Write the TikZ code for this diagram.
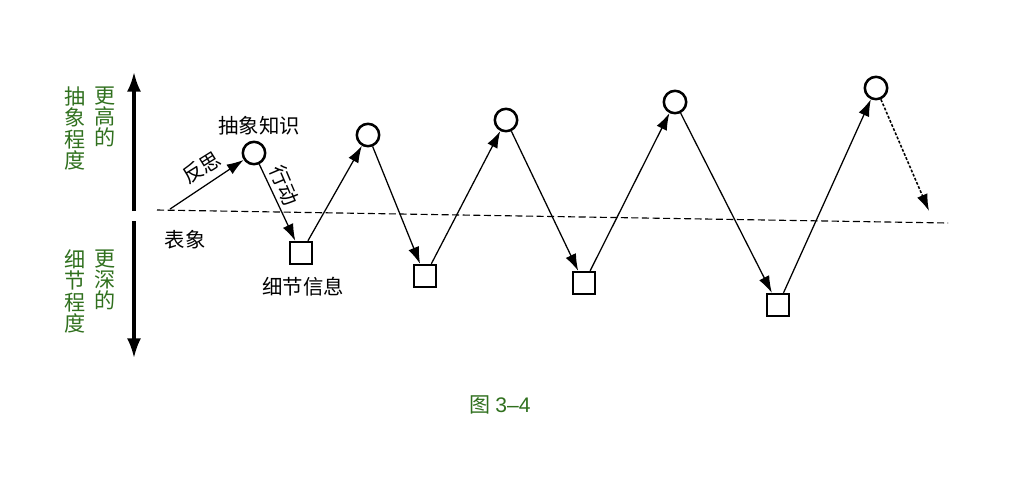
\documentclass[tikz,border=0pt]{standalone}
\usepackage{fontspec}
\newfontfamily\cjk{Noto Sans CJK SC}
\usetikzlibrary{arrows.meta,positioning}
\definecolor{bookgreen}{RGB}{48,112,30}

\tikzset{know/.style={circle,draw,line width=1.8pt,minimum size=5.6mm,inner sep=0pt},
  detail/.style={rectangle,draw,line width=1.4pt,minimum size=5.6mm,inner sep=0pt},
  side/.style={text=bookgreen,font=\cjk\fontsize{15}{15.2}\selectfont,align=center,anchor=north,inner sep=0pt},
  lbl/.style={font=\cjk\fontsize{14.5}{16}\selectfont,inner sep=0pt}}

\begin{document}
\begin{tikzpicture}[x=0.25mm,y=-0.25mm,->,>={Latex[length=12pt,width=8pt]},line width=0.9pt]
\useasboundingbox (0,0) rectangle (1024,476);
% axis on the left
\coordinate (Top) at (134,72);
\coordinate (MidA) at (134,211);
\coordinate (MidB) at (134,221);
\coordinate (Bottom) at (134,358);
\draw[line width=2.2pt,-{Latex[length=14pt,width=10pt]}] (MidA) -- (Top);
\draw[line width=2.2pt,-{Latex[length=14pt,width=10pt]}] (MidB) -- (Bottom);
\node[side] (HighA) at (105,86) {更\\高\\的};
\node[side] (HighB) at (75,86) {抽\\象\\程\\度};
\node[side] (DeepA) at (105,249) {更\\深\\的};
\node[side] (DeepB) at (75,249) {细\\节\\程\\度};
% surface line
\coordinate (LineL) at (157,210);
\coordinate (LineR) at (948,223);
\draw[-,line width=0.8pt,dash pattern=on 5pt off 2.5pt] (LineL) -- (LineR);
\coordinate (Start) at (170,209);
% knowledge and details
\node[know] (K1) at (254,153) {};
\node[know] (K2) at (368,135) {};
\node[know] (K3) at (506,120) {};
\node[know] (K4) at (675,102) {};
\node[know] (K5) at (876,88) {};
\node[detail] (D1) at (301,253) {};
\node[detail] (D2) at (425,276) {};
\node[detail] (D3) at (584,283) {};
\node[detail] (D4) at (778,305) {};
\coordinate (Next) at (929,211);
\node[lbl] (Abstract) at (259,126) {\cjk 抽象知识};
\node[lbl] (Surface) at (185,240) {\cjk 表象};
\node[lbl] (Detail) at (303,287) {\cjk 细节信息};
\begin{scope}[every node/.style={midway,lbl}]
\draw (Start) to node[above=6pt,rotate=32] {\cjk 反思} (K1);
\draw (K1) to node[above=6pt,rotate=-67,xshift=-4pt] {\cjk 行动} (D1);
\end{scope}
\draw (D1) -- (K2);
\draw (K2) -- (D2);
\draw (D2) -- (K3);
\draw (K3) -- (D3);
\draw (D3) -- (K4);
\draw (K4) -- (D4);
\draw (D4) -- (K5);
\draw[line width=1.1pt,dash pattern=on 2pt off 1.2pt] (K5) -- (Next);
% caption
\node[side,anchor=center] (Caption) at (500,405) {\cjk 图 \fontspec{Liberation Sans}3–4};
\end{tikzpicture}
\end{document}
